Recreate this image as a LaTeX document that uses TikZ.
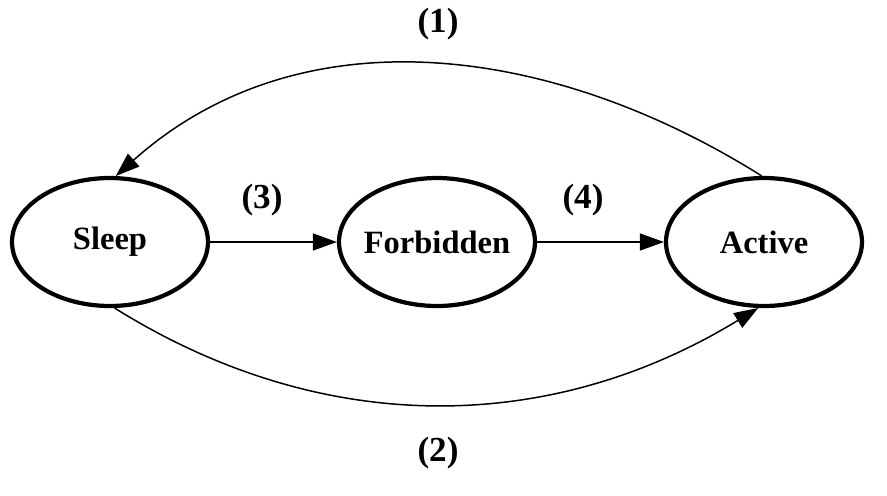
\documentclass[tikz,border=0pt]{standalone}
\usepackage{fontspec}
\setmainfont{Liberation Serif}
\usetikzlibrary{arrows.meta, shapes.geometric}

\begin{document}
\begin{tikzpicture}[x=0.02cm, y=-0.02cm, font=\fontsize{18.5}{20}\selectfont\bfseries,
    state/.style={ellipse, draw, line width=2.4pt, minimum width=3.92cm, minimum height=2.56cm, inner xsep=-8pt, inner ysep=0pt},
    link/.style={-{Triangle[length=0.48cm, width=0.34cm]}, line width=0.85pt},
    tag/.style={font=\fontsize{20}{22}\selectfont\bfseries}]
      \useasboundingbox (0,0) rectangle (887,495);

      \node[state] (sleep) at (110,242) {Sleep};
      \node[state] (forbidden) at (437,242) {Forbidden};
      \node[state] (active) at (764,242) {Active};

      \draw[link] (sleep) -- (forbidden);
      \draw[link] (forbidden) -- (active);
      \draw[link] (active.92) .. controls +(-210,-132) and +(185,-165) .. (sleep.85);
      \draw[link] (sleep.-86) .. controls +(208,130) and +(-208,127) .. (active.-95);

      \node[tag] (l1) at (438,24) {(1)};
      \node[tag] (l2) at (438,453) {(2)};
      \node[tag] (l3) at (262,200) {(3)};
      \node[tag] (l4) at (583,200) {(4)};
    \end{tikzpicture}
\end{document}
